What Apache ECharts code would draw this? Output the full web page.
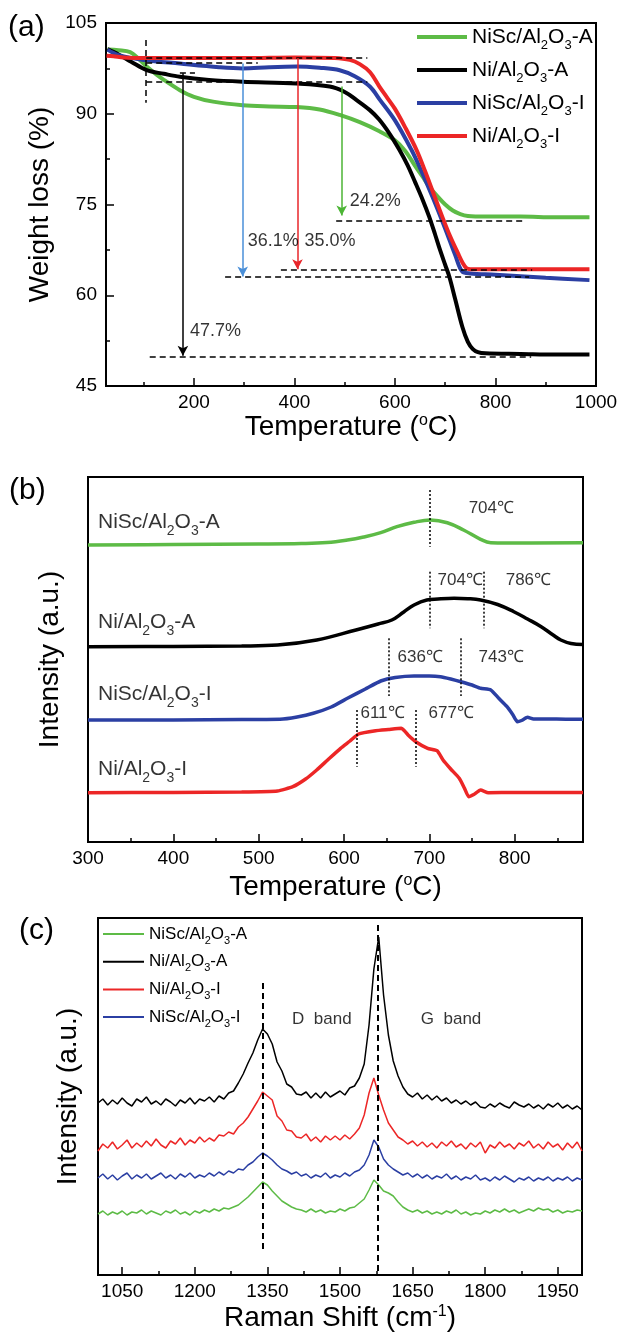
<!DOCTYPE html>
<html><head><meta charset="utf-8">
<script src="https://cdn.jsdelivr.net/npm/echarts@6/dist/echarts.min.js"></script>
<style>html,body{margin:0;padding:0;background:#fff}#c{width:619px;height:1335px}</style>
</head><body><div id="c"></div>
<script>
// ---------------- DATA ----------------
const sampleNames = ['NiSc/Al2O3-A', 'Ni/Al2O3-A', 'NiSc/Al2O3-I', 'Ni/Al2O3-I'];

// (a) TGA: [temperature °C, weight %]
const tgaNiScA = [[28,100.6],[50,100.5],[73,100.2],[90,99.1],[106,97.8],[125,96.5],[140,95.6],[172,93.9],[200,92.8],[238,92.0],[297,91.4],[350,91.2],[404,91.1],[450,90.7],[490,89.8],[530,88.6],[569,87.1],[600,85.6],[620,83.9],[640,81.4],[655,79.6],[668,78.0],[685,76.3],[700,75.0],[715,74.0],[730,73.4],[745,73.1],[780,73.0],[850,73.0],[920,72.9],[987,72.9]];
const tgaNiA = [[28,100.7],[50,99.8],[75,98.6],[106,97.2],[140,96.6],[172,96.1],[230,95.6],[297,95.3],[404,95.0],[470,94.5],[500,93.6],[523,92.3],[550,90.6],[569,89.0],[590,86.6],[609,84.0],[625,81.5],[640,78.7],[655,75.8],[668,73.0],[680,70.0],[690,67.4],[700,65.0],[708,63.1],[720,59.3],[734,54.8],[745,52.3],[755,51.1],[765,50.6],[780,50.4],[850,50.3],[920,50.2],[987,50.2]];
const tgaNiScI = [[28,100.6],[50,99.7],[100,98.9],[172,98.3],[250,97.7],[297,97.5],[350,97.7],[404,97.8],[450,97.6],[490,97.2],[520,96.2],[550,94.5],[570,92.3],[600,88.9],[633,84.0],[650,81.0],[675,76.2],[700,71.0],[720,66.6],[734,63.9],[750,63.6],[800,63.4],[900,62.9],[987,62.5]];
const tgaNiI = [[26,99.6],[40,99.5],[60,99.3],[100,99.2],[200,99.2],[300,99.2],[400,99.3],[480,99.2],[510,98.9],[530,98.2],[550,96.9],[569,94.5],[585,92.6],[600,90.8],[620,87.8],[643,84.0],[660,80.5],[675,77.2],[694,73.0],[710,69.7],[725,67.0],[735,65.3],[742,64.5],[750,64.3],[800,64.3],[900,64.3],[987,64.3]];
const tgaXTicks = [200, 400, 600, 800];
const tgaXMinorTicks = [100, 300, 500, 700, 900];
const tgaXLabels = [200, 400, 600, 800, 1000];
// (a) annotations
const tgaDashed = [[[105,102.2],[105,91.8]],[[105,99.2],[545,99.2]],[[105,98.5],[327,98.5]],[[172,96.7],[202,96.7]],[[105,95.3],[545,95.3]],[[483,72.3],[857,72.3]],[[373,64.2],[873,64.2]],[[262,63.0],[867,63.0]],[[112,49.9],[871,49.9]]];
const tgaArrowX = [178, 297, 406, 494];
const tgaArrowTop = [96.7, 98.3, 99.2, 94.5];
const tgaArrowBottom = [50.0, 63.1, 64.3, 73.2];
const tgaLossLabels = ['47.7%', '36.1%', '35.0%', '24.2%'];
const tgaLossPos = [[192,54.1],[307,69.0],[420,69.0],[510,75.6]];

// (b) TPO: [temperature °C, intensity a.u. (offset)]
const tpoNiScA = [[300,297],[400,297.5],[500,298],[550,298.5],[580,299.5],[604,302],[623,305],[643,309.3],[662,315.3],[682,319.7],[701,322],[721,319.3],[740,312],[760,302.7],[772,299.3],[790,299],[880,299.3]];
const tpoNiA = [[300,195.3],[400,195.5],[480,196],[522,197],[568,202],[614,212],[640,218],[656,222],[670,230],[682,237],[697,242],[710,243],[729,243.7],[745,243.3],[760,242],[780,237.5],[799,230.3],[815,223],[831,215.3],[845,207],[854,202],[866,198.5],[880,197.5]];
const tpoNiScI = [[300,122],[400,122],[480,122.5],[525,122.7],[545,125],[564,128.7],[585,135],[604,143.7],[625,153],[643,161],[660,164.5],[682,166],[700,166],[713,165.3],[725,163],[737,160.3],[750,157],[760,153.7],[772,152],[781,144],[791,135.3],[798,127],[803,120.3],[808,121.5],[815,124.7],[822,123],[838,123],[860,122.8],[880,122.7]];
const tpoNiI = [[300,49.3],[400,49.5],[480,50],[522,51],[540,55.3],[555,63],[568,72],[582,83],[596,93.7],[607,101],[617,108],[637,111.3],[652,112.5],[667,113.7],[671,111],[675,107],[684,100.3],[698,93.7],[709,91.3],[716,82],[725,73],[735,63.7],[741,54],[746,45.3],[752,47.5],[760,52],[769,49.3],[800,49.5],[880,49.5]];
const tpoXTicks = [300, 400, 500, 600, 700, 800];
const tpoXMinorTicks = [350, 450, 550, 650, 750, 850];
const tpoPeakLines = [[701,352,295.3],[701,270.3,213.7],[764,270.3,213.7],[652,203.7,146],[737,203.7,146],[615,132,75.3],[684,132,75.3]];
const tpoPeakLabels = ['704℃','704℃','786℃','636℃','743℃','611℃','677℃'];
const tpoPeakLabelPos = [[746,334],[709.6,262],[789.4,262],[662.7,185],[757.7,185],[619.2,129],[699,129]];
const tpoNamePos = [[311.7,320],[311.7,220],[311.7,148],[311.7,73]];

// (c) Raman
const ramanShift = [1000,1010,1020,1030,1040,1050,1060,1070,1080,1090,1100,1110,1120,1130,1140,1150,1160,1170,1180,1190,1200,1210,1220,1230,1240,1250,1260,1270,1280,1290,1300,1310,1320,1330,1340,1350,1360,1370,1380,1390,1400,1410,1420,1430,1440,1450,1460,1470,1480,1490,1500,1510,1520,1530,1540,1550,1560,1570,1580,1590,1600,1610,1620,1630,1640,1650,1660,1670,1680,1690,1700,1710,1720,1730,1740,1750,1760,1770,1780,1790,1800,1810,1820,1830,1840,1850,1860,1870,1880,1890,1900,1910,1920,1930,1940,1950,1960,1970,1980,1990,2000];
const ramanNiA = [172,176,170,175,171,177,172,169,176,173,178,171,174,170,176,173,169,175,172,177,171,176,174,178,173,179,176,182,184,192,201,212,222,235,246,241,231,213,204,191,188,181,180,183,177,182,177,183,178,181,184,180,187,189,197,211,250,306,338,280,240,214,199,188,181,178,182,176,180,175,179,174,177,172,175,171,174,170,173,168,167,171,168,172,169,167,173,170,168,171,167,170,166,171,168,172,167,170,166,169,165];
const ramanNiI = [124,131,127,133,126,130,135,127,132,128,134,129,136,130,127,134,131,137,130,135,132,138,133,137,134,140,139,143,141,148,152,158,166,174,183,179,175,159,154,145,144,138,137,141,134,138,133,139,135,139,135,140,136,141,147,160,182,197,180,165,152,145,138,135,131,134,129,133,128,132,127,133,129,134,128,131,126,132,128,133,122,130,127,133,128,131,126,132,129,134,127,131,126,133,128,131,125,132,127,133,124];
const ramanNiScI = [97,101,96,100,95,99,102,96,100,97,101,96,99,102,97,100,96,101,98,102,97,100,98,102,99,103,100,104,102,106,105,110,113,118,122,119,115,110,106,104,101,103,99,101,97,100,98,102,97,100,98,102,99,103,105,110,120,135,128,116,110,106,103,100,102,98,101,97,100,96,99,97,101,96,99,95,98,96,100,95,97,94,98,95,99,96,93,97,95,98,94,97,95,98,94,97,95,98,94,97,95];
const ramanNiScA = [61,64,60,63,61,64,60,63,62,65,61,64,62,60,64,62,65,61,63,60,64,62,65,63,66,64,67,66,68,70,74,78,83,88,93,90,84,79,74,71,68,66,65,63,66,63,65,62,64,63,66,64,67,68,72,76,85,95,90,84,82,79,73,68,65,63,65,62,64,61,63,61,64,62,65,61,63,60,62,61,64,62,65,63,66,63,65,62,64,66,64,67,65,66,63,65,62,64,63,65,64];
const ramanXTicks = [1050, 1200, 1350, 1500, 1650, 1800, 1950];
const ramanXMinorTicks = [1125, 1275, 1425, 1575, 1725, 1875];
const ramanBandLines = [[1341,292,22],[1577,350,0]];
const ramanBandLabels = ['D  band', 'G  band'];
const ramanBandPos = [[1401,256],[1667,256]];

// ---------------- STYLE ----------------
const FONT = '"Liberation Sans", Arial, Helvetica, sans-serif';
const COL = {'NiSc/Al2O3-A':'#5dbb46','Ni/Al2O3-A':'#000000','NiSc/Al2O3-I':'#2b3fa3','Ni/Al2O3-I':'#ec2626'};
const arrowColors = ['#000000','#4a8fd8','#e8262a','#4cb535'];
const sub = n => n.replace(/(\d)/g, '{s|$1}');
const plainNum = v => String(v);

const grids = [
  {left:106, top:23, width:490, height:363},
  {left:88, top:477, width:495, height:365},
  {left:98, top:918, width:484, height:357}
].map(g => Object.assign(g, {show:true, borderColor:'#000', borderWidth:2, backgroundColor:'rgba(0,0,0,0)', containLabel:false, outerBoundsMode:'none'}));

function mainX(gi, min, max, ticks, labels, name, gap) {
  return {type:'value', gridIndex:gi, min, max, position:'bottom',
    axisLine:{show:true, onZero:false, lineStyle:{color:'#000', width:2}},
    axisTick:{show:true, inside:true, length:8, customValues:ticks, lineStyle:{color:'#000', width:1.5}},
    axisLabel:{show:true, customValues:labels, formatter:plainNum, fontSize:19, color:'#000', fontFamily:FONT, margin:7},
    splitLine:{show:false},
    name, nameLocation:'middle', nameGap:gap,
    nameTextStyle:{fontSize:28, color:'#000', fontFamily:FONT, rich:{s:{fontSize:16, fontFamily:FONT, color:'#000', verticalAlign:'top'}}}
  };
}
function minorX(gi, min, max, ticks) {
  return {type:'value', gridIndex:gi, min, max, position:'bottom',
    axisLine:{show:false}, axisLabel:{show:false}, splitLine:{show:false},
    axisTick:{show:true, inside:true, length:4, customValues:ticks, lineStyle:{color:'#000', width:1.5}}};
}
function plainY(gi, max, gap) {
  return {type:'value', gridIndex:gi, min:0, max,
    axisLine:{show:true, lineStyle:{color:'#000', width:2}}, axisTick:{show:false}, axisLabel:{show:false}, splitLine:{show:false},
    name:'Intensity (a.u.)', nameLocation:'middle', nameGap:gap, nameTextStyle:{fontSize:28, color:'#000', fontFamily:FONT}};
}

const xAxis = [
  mainX(0, 25, 1000, tgaXTicks, tgaXLabels, 'Temperature ({s|o}C)', 27),
  minorX(0, 25, 1000, tgaXMinorTicks),
  mainX(1, 300, 880, tpoXTicks, tpoXTicks, 'Temperature ({s|o}C)', 31),
  minorX(1, 300, 880, tpoXMinorTicks),
  mainX(2, 1000, 2000, ramanXTicks, ramanXTicks, 'Raman Shift (cm{s|-1})', 29),
  minorX(2, 1000, 2000, ramanXMinorTicks)
];
const yAxis = [
  {type:'value', gridIndex:0, min:45, max:105, interval:15,
    axisLine:{show:true, lineStyle:{color:'#000', width:2}},
    axisTick:{show:true, inside:true, length:8, lineStyle:{color:'#000', width:1.5}},
    minorTick:{show:true, splitNumber:2, length:4, lineStyle:{color:'#000', width:1.5}},
    axisLabel:{fontSize:19, color:'#000', fontFamily:FONT, margin:9, formatter:plainNum},
    splitLine:{show:false},
    name:'Weight loss (%)', nameLocation:'middle', nameGap:40, nameTextStyle:{fontSize:28, color:'#000', fontFamily:FONT}},
  plainY(1, 365, 24),
  plainY(2, 357, 16)
];

const series = [];
// (a)
[tgaNiScA, tgaNiA, tgaNiScI, tgaNiI].forEach((d, i) => {
  series.push({type:'line', name:sampleNames[i], xAxisIndex:0, yAxisIndex:0, data:d, showSymbol:false,
    smooth:0.35, lineStyle:{width:4, color:COL[sampleNames[i]]}, itemStyle:{color:COL[sampleNames[i]]}, z:2});
});
const aMark = tgaDashed.map(seg => [{coord:seg[0], symbol:'none', lineStyle:{type:[6,4], width:1.5, color:'#000'}}, {coord:seg[1], symbol:'none'}]);
tgaArrowX.forEach((x, i) => aMark.push([{coord:[x, tgaArrowTop[i]], symbol:'none', lineStyle:{type:'solid', width:1.5, color:arrowColors[i]}}, {coord:[x, tgaArrowBottom[i]], symbol:'arrow', symbolSize:[8,10]}]));
series.push({type:'scatter', xAxisIndex:0, yAxisIndex:0, symbolSize:0, silent:true, z:5,
  data: tgaLossLabels.map((t, i) => ({name:t, value:tgaLossPos[i]})),
  label:{show:true, position:'right', distance:0, formatter:'{b}', fontSize:18, color:'#000', fontFamily:FONT},
  markLine:{silent:true, animation:false, symbol:'none', label:{show:false}, data:aMark, z:4}});

// (b)
[tpoNiScA, tpoNiA, tpoNiScI, tpoNiI].forEach((d, i) => {
  series.push({type:'line', name:sampleNames[i], xAxisIndex:2, yAxisIndex:1, data:d, showSymbol:false,
    smooth:i < 2 ? 0.4 : 0.15, lineStyle:{width:3.5, color:COL[sampleNames[i]]}, itemStyle:{color:COL[sampleNames[i]]}});
});
const bMark = tpoPeakLines.map(l => [{coord:[l[0], l[1]], symbol:'none', lineStyle:{type:[2,2], width:1.5, color:'#000'}}, {coord:[l[0], l[2]], symbol:'none'}]);
series.push({type:'scatter', xAxisIndex:2, yAxisIndex:1, symbolSize:0, silent:true, z:5,
  data: tpoPeakLabels.map((t, i) => ({name:t, value:tpoPeakLabelPos[i]})),
  label:{show:true, position:'right', distance:0, formatter:'{b}', fontSize:17, color:'#000', fontFamily:FONT},
  markLine:{silent:true, animation:false, symbol:'none', label:{show:false}, data:bMark}});
series.push({type:'scatter', xAxisIndex:2, yAxisIndex:1, symbolSize:0, silent:true, z:5,
  data: sampleNames.map((n, i) => ({name:n, value:tpoNamePos[i]})),
  label:{show:true, position:'right', distance:0, formatter:p => sub(p.name), fontSize:21, lineHeight:32, color:'#000', fontFamily:FONT,
    rich:{s:{fontSize:14, fontFamily:FONT, color:'#000', verticalAlign:'bottom'}}}});

// (c)
const ramanSets = [ramanNiScA, ramanNiA, ramanNiScI, ramanNiI];
ramanSets.forEach((vals, i) => {
  series.push({type:'line', name:sampleNames[i], xAxisIndex:4, yAxisIndex:2, data:ramanShift.map((x, k) => [x, vals[k]]),
    showSymbol:false, lineStyle:{width:1.5, color:COL[sampleNames[i]]}, itemStyle:{color:COL[sampleNames[i]]}});
});
const cMark = ramanBandLines.map(l => [{coord:[l[0], l[1]], symbol:'none', lineStyle:{type:[6,4], width:2, color:'#000'}}, {coord:[l[0], l[2]], symbol:'none'}]);
series.push({type:'scatter', xAxisIndex:4, yAxisIndex:2, symbolSize:0, silent:true, z:5,
  data: ramanBandLabels.map((t, i) => ({name:t, value:ramanBandPos[i]})),
  label:{show:true, position:'right', distance:0, formatter:'{b}', fontSize:17, color:'#000', fontFamily:FONT},
  markLine:{silent:true, animation:false, symbol:'none', label:{show:false}, data:cMark}});

const option = {
  animation:false,
  backgroundColor:'#fff',
  textStyle:{fontFamily:FONT},
  title:[
    {text:'(a)', left:8, top:13, padding:0, textStyle:{fontSize:30, fontWeight:'normal', color:'#000', fontFamily:FONT}},
    {text:'(b)', left:9, top:476, padding:0, textStyle:{fontSize:30, fontWeight:'normal', color:'#000', fontFamily:FONT}},
    {text:'(c)', left:19, top:916, padding:0, textStyle:{fontSize:30, fontWeight:'normal', color:'#000', fontFamily:FONT}}
  ],
  legend:[
    {data:sampleNames, orient:'vertical', left:417, top:22, padding:0, itemWidth:50, itemHeight:4, itemGap:3, icon:'rect', selectedMode:false,
      formatter:n => sub(n),
      textStyle:{fontSize:21, lineHeight:30, color:'#000', fontFamily:FONT, rich:{s:{fontSize:13, fontFamily:FONT, color:'#000', verticalAlign:'bottom'}}}},
    {data:[sampleNames[0], sampleNames[1], sampleNames[3], sampleNames[2]], orient:'vertical', left:103, top:922, padding:0, itemWidth:41, itemHeight:2, itemGap:3.7, icon:'rect', selectedMode:false,
      formatter:n => sub(n),
      textStyle:{fontSize:17, lineHeight:24, color:'#000', fontFamily:FONT, rich:{s:{fontSize:11, fontFamily:FONT, color:'#000', verticalAlign:'bottom'}}}}
  ],
  grid:grids, xAxis, yAxis, series
};
const chart = echarts.init(document.getElementById('c'), null, {renderer:'canvas'});
chart.setOption(option);
</script></body></html>
